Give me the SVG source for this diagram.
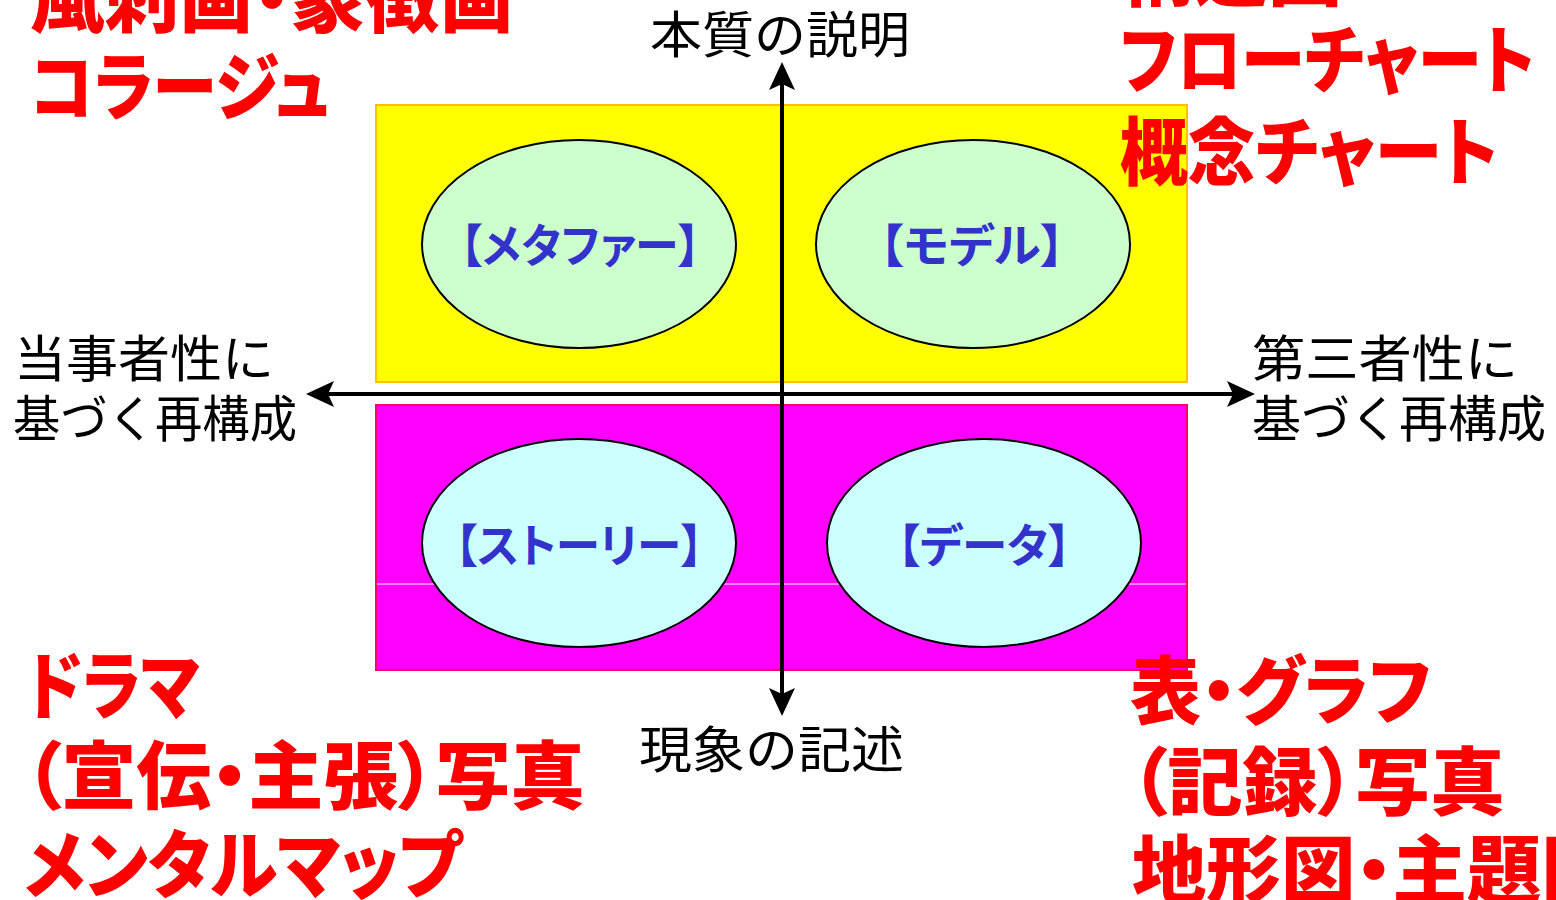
<svg xmlns="http://www.w3.org/2000/svg" width="1556" height="900" viewBox="0 0 1556 900">
<style>
.red{font-family:"Noto Sans CJK JP","Noto Sans CJK SC",sans-serif;font-weight:900;font-size:74px;fill:#ff0000;font-feature-settings:"palt" 1}
.lbl{font-family:"Noto Sans CJK JP","Noto Sans CJK SC",sans-serif;font-weight:400;font-size:50px;fill:#000000}
.nd{font-family:"Noto Sans CJK JP","Noto Sans CJK SC",sans-serif;font-weight:700;font-size:46px;fill:#3333cc;text-anchor:middle;font-feature-settings:"palt" 1}
.ell{stroke:#000000;stroke-width:2}
.axis{stroke:#000000;stroke-width:4;fill:none}
</style>
<defs>
<marker id="ah" viewBox="0 0 28 26" refX="18" refY="13" markerWidth="28" markerHeight="26" markerUnits="userSpaceOnUse" orient="auto-start-reverse">
<path d="M0,0 L28,13 L0,26 L6,13 Z" fill="#000000"/>
</marker>
</defs>
<rect width="1556" height="900" fill="#ffffff"/>
<g id="quadrant-top">
<rect x="376" y="105" width="811" height="277" fill="#ffff00" stroke="#ffc000" stroke-width="2"/>
</g>
<g id="quadrant-bottom">
<rect x="376" y="405" width="811" height="265" fill="#ff00ff" stroke="#ff0066" stroke-width="2"/>
<line x1="377" y1="584" x2="1186" y2="584" stroke="#ffffff" stroke-width="1"/>
</g>
<g id="node-metaphor">
<ellipse class="ell" cx="579" cy="244" rx="157" ry="104" fill="#ccffcc"/>
<text class="nd" x="580" y="262" textLength="240" lengthAdjust="spacingAndGlyphs">【メタファー】</text>
</g>
<g id="node-model">
<ellipse class="ell" cx="973" cy="244" rx="157" ry="104" fill="#ccffcc"/>
<text class="nd" x="972" y="262" textLength="185" lengthAdjust="spacingAndGlyphs">【モデル】</text>
</g>
<g id="node-story">
<ellipse class="ell" cx="579" cy="543" rx="157" ry="104" fill="#ccffff"/>
<text class="nd" x="579" y="562" textLength="248" lengthAdjust="spacingAndGlyphs">【ストーリー】</text>
</g>
<g id="node-data">
<ellipse class="ell" cx="984" cy="543" rx="157" ry="104" fill="#ccffff"/>
<text class="nd" x="984" y="562" textLength="174" lengthAdjust="spacingAndGlyphs">【データ】</text>
</g>
<g id="connectors">
<line class="axis" x1="782" y1="72" x2="782" y2="706" marker-start="url(#ah)" marker-end="url(#ah)"/>
<line class="axis" x1="316" y1="394" x2="1245" y2="394" marker-start="url(#ah)" marker-end="url(#ah)"/>
</g>
<g id="axis-labels">
<text class="lbl" x="650" y="53" textLength="260" lengthAdjust="spacingAndGlyphs">本質の説明</text>
<text class="lbl" x="639" y="768" textLength="265" lengthAdjust="spacingAndGlyphs">現象の記述</text>
<text class="lbl" x="14" y="377" textLength="260" lengthAdjust="spacingAndGlyphs">当事者性に</text>
<text class="lbl" x="13" y="437" textLength="284" lengthAdjust="spacingAndGlyphs">基づく再構成</text>
<text class="lbl" x="1252" y="377" textLength="266" lengthAdjust="spacingAndGlyphs">第三者性に</text>
<text class="lbl" x="1252" y="437" textLength="294" lengthAdjust="spacingAndGlyphs">基づく再構成</text>
</g>
<g id="examples-top-left">
<text class="red" x="30" y="26" textLength="484" lengthAdjust="spacingAndGlyphs">風刺画・象徴画</text>
<text class="red" x="30" y="114" textLength="300" lengthAdjust="spacingAndGlyphs">コラージュ</text>
</g>
<g id="examples-top-right">
<text class="red" x="1120" y="0">構造図</text>
<text class="red" x="1120" y="87" textLength="415" lengthAdjust="spacingAndGlyphs">フローチャート</text>
<text class="red" x="1120" y="179" textLength="378" lengthAdjust="spacingAndGlyphs">概念チャート</text>
</g>
<g id="examples-bottom-left">
<text class="red" x="26" y="713" textLength="174" lengthAdjust="spacingAndGlyphs">ドラマ</text>
<text class="red" x="24" y="803" textLength="561" lengthAdjust="spacingAndGlyphs">（宣伝・主張）写真</text>
<text class="red" x="24" y="892" textLength="438" lengthAdjust="spacingAndGlyphs">メンタルマップ</text>
</g>
<g id="examples-bottom-right">
<text class="red" x="1130" y="718" textLength="301" lengthAdjust="spacingAndGlyphs">表・グラフ</text>
<text class="red" x="1130" y="809" textLength="375" lengthAdjust="spacingAndGlyphs">（記録）写真</text>
<text class="red" x="1132" y="897" textLength="484" lengthAdjust="spacingAndGlyphs">地形図・主題図</text>
</g>
</svg>
